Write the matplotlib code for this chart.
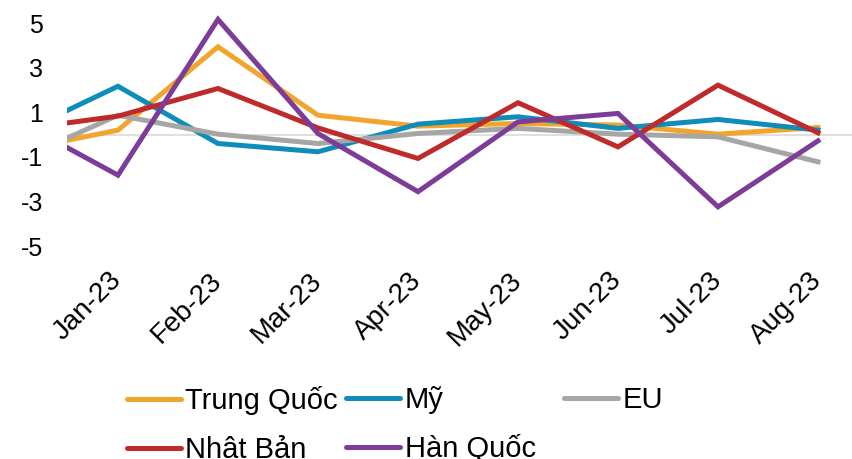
import matplotlib
matplotlib.use("Agg")
import matplotlib.pyplot as plt
from matplotlib.lines import Line2D

plt.rcParams["font.family"] = ["Liberation Sans", "DejaVu Sans"]
plt.rcParams["axes.unicode_minus"] = False

# ─── Dữ liệu ────────────────────────────────────────────────────────────────
# Điểm đầu (Dec-22) chỉ để đoạn đầu bị cắt ở mép trái như ảnh gốc
months = ["Dec-22", "Jan-23", "Feb-23", "Mar-23", "Apr-23",
          "May-23", "Jun-23", "Jul-23", "Aug-23"]
tick_labels = months[1:]

trung_quoc = [-0.70, 0.20, 3.94, 0.87, 0.38, 0.50, 0.43, 0.02, 0.32]
my = [0.03, 2.17, -0.40, -0.77, 0.47, 0.80, 0.28, 0.68, 0.20]
eu = [-1.15, 0.87, 0.02, -0.40, 0.05, 0.28, 0.02, -0.10, -1.22]
nhat_ban = [0.23, 0.83, 2.07, 0.30, -1.07, 1.43, -0.55, 2.22, 0.08]
han_quoc = [0.62, -1.82, 5.17, 0.05, -2.56, 0.57, 0.95, -3.24, -0.28]

series = [
    ("Trung Quốc", trung_quoc, "#F2A52C"),
    ("Mỹ", my, "#0E8CBA"),
    ("EU", eu, "#A6A6A6"),
    ("Nhật Bản", nhat_ban, "#BF2A2A"),
    ("Hàn Quốc", han_quoc, "#7D3C97"),
]


def main() -> None:
    fig = plt.figure(figsize=(8.53, 4.59), dpi=100)
    ax = fig.add_axes([0.0785, 0.464, 0.9215, 0.534])

    x = list(range(len(months)))
    ax.axhline(0, color="#D9D9D9", lw=1.2, zorder=1)

    handles = {}
    for name, vals, color in series:
        ax.plot(x, vals, color=color, lw=3.6, solid_joinstyle="miter", zorder=2)
        handles[name] = Line2D([], [], color=color, lw=3.6,
                               solid_capstyle="round")

    ax.set_xlim(0.49, 8.35)
    ax.set_ylim(-5, 6)
    ax.set_yticks([-5, -3, -1, 1, 3, 5])
    ax.set_xticks(x[1:])
    ax.set_xticklabels(tick_labels, rotation=45, ha="right",
                       rotation_mode="anchor", va="center")
    ax.tick_params(axis="y", length=0, labelsize=18, pad=17)
    ax.tick_params(axis="x", length=0, labelsize=20, pad=22)
    for sp in ax.spines.values():
        sp.set_visible(False)

    # Chú thích: 3 cột như Excel
    columns = [
        (["Trung Quốc", "Nhật Bản"], 0.149),
        (["Mỹ", "Hàn Quốc"], 0.406),
        (["EU"], 0.661),
    ]
    for names, x0 in columns:
        fig.legend([handles[n] for n in names], names,
                   loc="upper left", bbox_to_anchor=(x0, 0.158),
                   frameon=False, fontsize=21, handlelength=1.85,
                   handletextpad=0.15, labelspacing=0.72,
                   borderpad=0, borderaxespad=0)

    fig.savefig("out.png", dpi=100)


if __name__ == "__main__":
    main()
